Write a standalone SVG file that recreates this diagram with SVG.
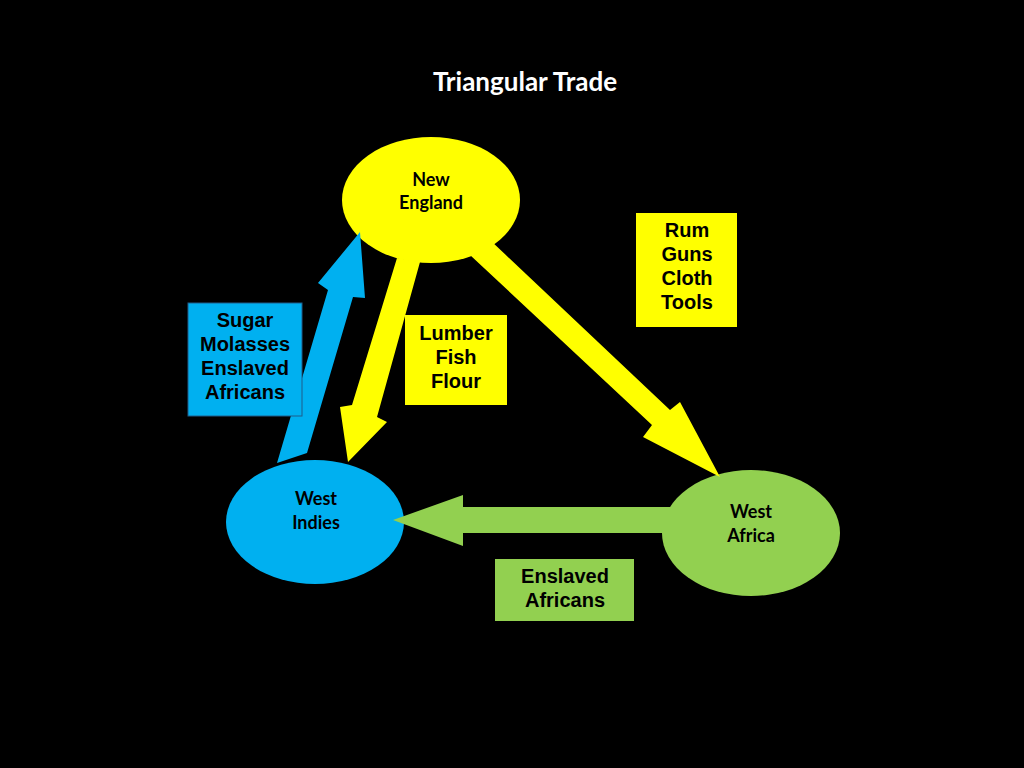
<svg xmlns="http://www.w3.org/2000/svg" width="1024" height="768" viewBox="0 0 1024 768">
<style>
.node-text{font-family:Lato,"Open Sans",sans-serif;font-weight:bold;font-size:18px;fill:#000;text-anchor:middle}
.box-text{font-family:"Liberation Sans",Arial,sans-serif;font-weight:bold;font-size:20px;fill:#000;text-anchor:middle}
.yellow{fill:#FFFF00}
.blue{fill:#00B0F0}
.green{fill:#92D050}
</style>
<rect width="1024" height="768" fill="#000"/>
<text x="525" y="91" font-family="Lato,'Open Sans',sans-serif" font-weight="bold" font-size="26" fill="#fff" text-anchor="middle">Triangular Trade</text>
<g id="new-england"><ellipse class="yellow" cx="431" cy="200" rx="89" ry="63"/><text class="node-text" x="431" y="186">New</text><text class="node-text" x="431" y="209">England</text></g>
<g id="west-indies"><ellipse class="blue" cx="315" cy="522" rx="89" ry="62"/><text class="node-text" x="316" y="505">West</text><text class="node-text" x="316" y="529">Indies</text></g>
<g id="west-africa"><ellipse class="green" cx="751" cy="533" rx="89" ry="63"/><text class="node-text" x="751" y="518">West</text><text class="node-text" x="751" y="542">Africa</text></g>
<g id="connectors">
<polygon class="blue" points="277,463 328,290 318,283 360,232 365,298 353,297 307,453"/>
<polygon class="yellow" points="397,258 420,262 377,417 387,422 348,462 340,407 352,405"/>
<polygon class="yellow" points="490,240 670,410 680,402 720,477 643,437 652,425 470,255"/>
<polygon class="green" points="672,507 463,507 463,495 393,520 463,546 463,533 672,533"/>
</g>
<g id="box-sugar"><rect x="188" y="303" width="114" height="113" class="blue" stroke="#1F5C8A" stroke-width="1"/><text class="box-text" x="245" y="327">Sugar</text><text class="box-text" x="245" y="351">Molasses</text><text class="box-text" x="245" y="375">Enslaved</text><text class="box-text" x="245" y="399">Africans</text></g>
<g id="box-lumber"><rect x="405" y="315" width="102" height="90" class="yellow"/><text class="box-text" x="456" y="340">Lumber</text><text class="box-text" x="456" y="364">Fish</text><text class="box-text" x="456" y="388">Flour</text></g>
<g id="box-rum"><rect x="636" y="213" width="101" height="114" class="yellow"/><text class="box-text" x="687" y="237">Rum</text><text class="box-text" x="687" y="261">Guns</text><text class="box-text" x="687" y="285">Cloth</text><text class="box-text" x="687" y="309">Tools</text></g>
<g id="box-enslaved"><rect x="495" y="559" width="139" height="62" class="green"/><text class="box-text" x="565" y="583">Enslaved</text><text class="box-text" x="565" y="607">Africans</text></g>
</svg>
